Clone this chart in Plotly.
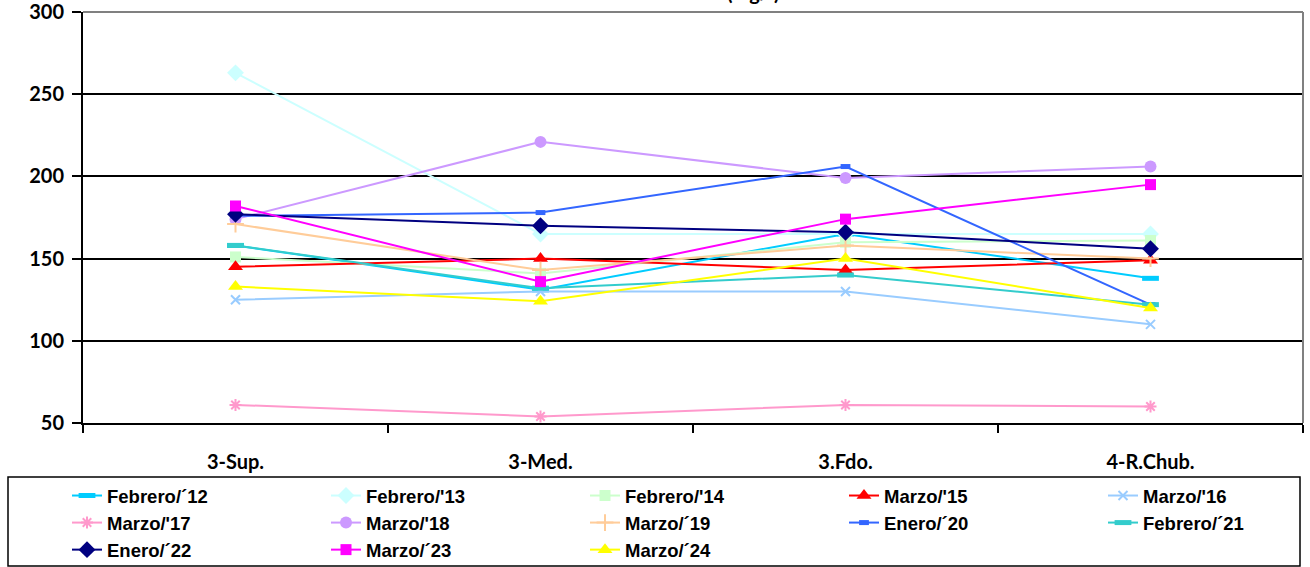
import plotly.graph_objects as go

# Sampling stations (x categories)
categories = ["3-Sup.", "3-Med.", "3.Fdo.", "4-R.Chub."]

# Concentrations (mg/l) per campaign
feb_12 = [158, 131, 165, 138]
feb_13 = [263, 165, 165, 165]
feb_14 = [151, 141, 160, 161]
mar_15 = [145, 150, 143, 149]
mar_16 = [125, 130, 130, 110]
mar_17 = [61, 54, 61, 60]
mar_18 = [174, 221, 199, 206]
mar_19 = [171, 143, 158, 150]
ene_20 = [176, 178, 206, 122]
feb_21 = [158, 132, 140, 122]
ene_22 = [177, 170, 166, 156]
mar_23 = [182, 136, 174, 195]
mar_24 = [133, 124, 150, 120]

y_ticks = [50, 100, 150, 200, 250, 300]

# name, values, colour, marker symbol, marker size, marker outline width
series = [
    ("Febrero/´12", feb_12, "#00CCFF", "line-ew", 12, 5),
    ("Febrero/'13", feb_13, "#CCFFFF", "diamond", 13, 0),
    ("Febrero/'14", feb_14, "#CCFFCC", "square", 11, 0),
    ("Marzo/'15", mar_15, "#FF0000", "triangle-up", 13, 0),
    ("Marzo/'16", mar_16, "#99CCFF", "x-thin", 9, 2),
    ("Marzo/'17", mar_17, "#FF99CC", "asterisk", 10, 2),
    ("Marzo/'18", mar_18, "#CC99FF", "circle", 12, 0),
    ("Marzo/´19", mar_19, "#FFCC99", "cross-thin", 12, 2),
    ("Enero/´20", ene_20, "#3366FF", "line-ew", 7, 5),
    ("Febrero/´21", feb_21, "#33CCCC", "line-ew", 12, 5),
    ("Enero/´22", ene_22, "#000080", "diamond", 13, 0),
    ("Marzo/´23", mar_23, "#FF00FF", "square", 11, 0),
    ("Marzo/´24", mar_24, "#FFFF00", "triangle-up", 13, 0),
]

fig = go.Figure()
for i, (name, vals, color, sym, size, lw) in enumerate(series):
    marker = dict(symbol=sym, size=size, color=color)
    if lw:
        marker["line"] = dict(color=color, width=lw)
    else:
        marker["line"] = dict(width=0)
    tr = dict(
        x=categories, y=vals, name=name, mode="lines+markers",
        line=dict(color=color, width=2), marker=marker,
    )
    # last legend column is kept narrow so the legend fits the page width
    if i % 5 == 4:
        tr["legendwidth"] = 130
    fig.add_trace(go.Scatter(**tr))

tick_font = dict(family="Lato, 'Open Sans', sans-serif", size=20, color="black")

fig.update_layout(
    width=1310, height=567,
    margin=dict(l=83, r=7, t=12, b=144, autoexpand=False),
    paper_bgcolor="white", plot_bgcolor="white",
    showlegend=True,
    legend=dict(
        orientation="h",
        x=(67 - 83) / 1220, xanchor="left",
        y=-(477 - 423) / 411, yanchor="top",
        entrywidth=214, entrywidthmode="pixels",
        font=dict(family="'Liberation Sans', Arial, sans-serif", size=18.5, color="black", weight="bold"),
        bgcolor="rgba(0,0,0,0)", borderwidth=0,
        traceorder="normal",
    ),
    xaxis=dict(
        type="category", range=[-0.5, 3.5],
        showgrid=False, showline=True, linecolor="black", linewidth=2,
        ticks="outside", tickson="boundaries", ticklen=8, tickwidth=2, tickcolor="black",
        tickfont=dict(**tick_font, weight="bold"), ticklabelstandoff=20,
        fixedrange=True,
    ),
    yaxis=dict(
        range=[50, 300], tickvals=y_ticks,
        showgrid=True, gridcolor="black", gridwidth=2,
        showline=True, linecolor="black", linewidth=2,
        ticks="outside", ticklen=9, tickwidth=2, tickcolor="black",
        tickfont=dict(**tick_font, weight="bold"), ticklabelstandoff=4,
        ticklabeloverflow="allow",
        zeroline=False, fixedrange=True,
    ),
    shapes=[
        # grey plot-area frame at the top and right
        dict(type="line", xref="paper", yref="paper", x0=0, x1=1, y0=1, y1=1,
             line=dict(color="#808080", width=2), layer="above"),
        dict(type="line", xref="paper", yref="paper", x0=1, x1=1, y0=0, y1=1,
             line=dict(color="#808080", width=2), layer="above"),
        # legend frame
        dict(type="rect", xref="paper", yref="paper",
             x0=(8 - 83) / 1220, x1=(1300 - 83) / 1220,
             y0=-(566 - 423) / 411, y1=-(477 - 423) / 411,
             line=dict(color="black", width=1.5), fillcolor="rgba(0,0,0,0)"),
    ],
    annotations=[
        dict(text="(mg/l)", xref="paper", yref="paper",
             x=(753 - 83) / 1220, y=1 + (12 - 6) / 411,
             xanchor="center", yanchor="bottom", showarrow=False,
             font=dict(family="Lato, 'Open Sans', sans-serif", size=20, color="black", weight="bold")),
    ],
)

fig.write_html("out.html")
